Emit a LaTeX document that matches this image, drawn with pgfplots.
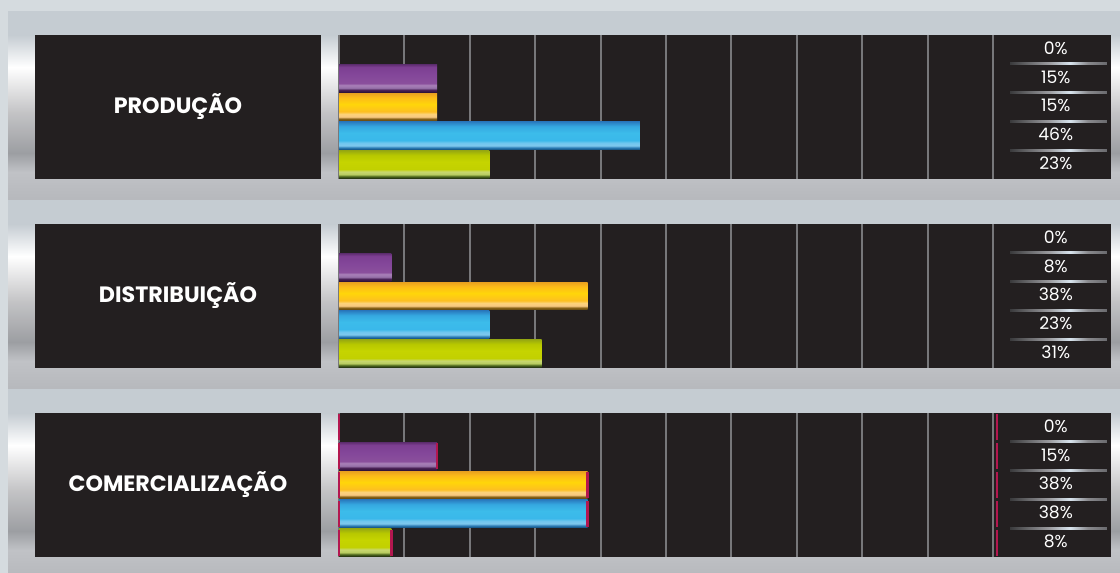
\documentclass[border=0pt]{standalone}
\usepackage{pgfplots}
\pgfplotsset{compat=1.18}
\usepackage{fontspec}
\setmainfont{Poppins}
\definecolor{bg}{HTML}{D5DBDF}
\definecolor{dark}{HTML}{231F20}
\definecolor{gridgray}{HTML}{77777A}
\definecolor{crimson}{HTML}{B3174F}
% band shading
\definecolor{bA}{HTML}{C5CCD2}\definecolor{bB}{HTML}{FFFFFF}\definecolor{bC}{HTML}{C4C4C6}
\definecolor{bD}{HTML}{9C9EA2}\definecolor{bE}{HTML}{C0C2C6}\definecolor{bF}{HTML}{B6B8BC}
\pgfdeclareverticalshading{band}{100bp}{color(0bp)=(bF); color(25bp)=(bF); color(32.7bp)=(bE); color(37.7bp)=(bD); color(48.5bp)=(bC); color(60.4bp)=(bB); color(68.9bp)=(bA); color(75bp)=(bA); color(100bp)=(bA)}
% purple
\definecolor{p0}{HTML}{2E1238}\definecolor{p1}{HTML}{4A2256}\definecolor{p2}{HTML}{9670A8}
\definecolor{p3}{HTML}{A880B8}\definecolor{p4}{HTML}{8A4F9C}\definecolor{p5}{HTML}{84479A}
\definecolor{p6}{HTML}{7D3F92}\definecolor{p7}{HTML}{5E2D70}
\pgfdeclareverticalshading{purplebar}{100bp}{color(0bp)=(p0); color(25bp)=(p0); color(29bp)=(p1); color(32.5bp)=(p2); color(37.5bp)=(p3); color(41bp)=(p4); color(55bp)=(p5); color(70bp)=(p6); color(75bp)=(p7); color(100bp)=(p7)}
% yellow
\definecolor{y0}{HTML}{5A4010}\definecolor{y1}{HTML}{8A6418}\definecolor{y2}{HTML}{F8C880}
\definecolor{y3}{HTML}{FCD27A}\definecolor{y4}{HTML}{FDBF20}\definecolor{y5}{HTML}{FFD60A}
\definecolor{y6}{HTML}{FCBB18}\definecolor{y7}{HTML}{E8A020}
\pgfdeclareverticalshading{yellowbar}{100bp}{color(0bp)=(y0); color(25bp)=(y0); color(29bp)=(y1); color(32.5bp)=(y2); color(37.5bp)=(y3); color(42bp)=(y4); color(55bp)=(y5); color(67bp)=(y6); color(75bp)=(y7); color(100bp)=(y7)}
% blue
\definecolor{c0}{HTML}{0F4A78}\definecolor{c1}{HTML}{2F7FB8}\definecolor{c2}{HTML}{7EC8EE}
\definecolor{c3}{HTML}{6FC6EF}\definecolor{c4}{HTML}{3AB8EA}\definecolor{c5}{HTML}{3CBCEA}
\definecolor{c6}{HTML}{35A8E0}\definecolor{c7}{HTML}{2A7CC0}
\pgfdeclareverticalshading{bluebar}{100bp}{color(0bp)=(c0); color(25bp)=(c0); color(29bp)=(c1); color(32.5bp)=(c2); color(37.5bp)=(c3); color(42bp)=(c4); color(55bp)=(c5); color(67bp)=(c6); color(75bp)=(c7); color(100bp)=(c7)}
% green
\definecolor{g0}{HTML}{1E2A10}\definecolor{g1}{HTML}{4F6A1E}\definecolor{g2}{HTML}{B8CC60}
\definecolor{g3}{HTML}{C8D870}\definecolor{g4}{HTML}{C2D000}\definecolor{g5}{HTML}{C6D400}
\definecolor{g6}{HTML}{B8C800}\definecolor{g7}{HTML}{98AA10}
\pgfdeclareverticalshading{greenbar}{100bp}{color(0bp)=(g0); color(25bp)=(g0); color(29bp)=(g1); color(32.5bp)=(g2); color(37.5bp)=(g3); color(42bp)=(g4); color(55bp)=(g5); color(67bp)=(g6); color(75bp)=(g7); color(100bp)=(g7)}
% separator
\definecolor{s0}{HTML}{3A3A3C}\definecolor{s1}{HTML}{9A9A9E}\definecolor{s2}{HTML}{D8E4EE}\definecolor{s3}{HTML}{8A8A8E}\definecolor{s4}{HTML}{6A6A6E}
\pgfdeclarehorizontalshading{sep}{100bp}{color(0bp)=(s0); color(25bp)=(s0); color(45bp)=(s1); color(56bp)=(s2); color(65bp)=(s3); color(75bp)=(s4); color(100bp)=(s4)}

\newcommand{\seps}{%
  \shade[shading=sep] (axis cs:102.6,0.46) rectangle (axis cs:117.4,0.54);
  \shade[shading=sep] (axis cs:102.6,1.46) rectangle (axis cs:117.4,1.54);
  \shade[shading=sep] (axis cs:102.6,2.46) rectangle (axis cs:117.4,2.54);
  \shade[shading=sep] (axis cs:102.6,3.46) rectangle (axis cs:117.4,3.54);
}

\pgfplotsset{
  panel/.style={
    anchor=south west, width=386pt, height=72pt, scale only axis,
    xmin=0, xmax=118.04, ymin=-0.5, ymax=4.5, y dir=reverse,
    axis line style={draw=none}, axis background/.style={fill=dark},
    xtick={0,10,...,100}, xticklabels={}, ytick=\empty,
    major tick length=0pt, xmajorgrids,
    major grid style={draw=gridgray, line width=1pt},
  },
  bars/.style={xbar, bar shift=0pt, bar width=0.97, draw=none, shading=#1},
  pct/.style={draw=none, mark=none, point meta=explicit symbolic,
    nodes near coords={\pgfplotspointmeta\%},
    nodes near coords align=center,
    every node near coord/.append style={text=white, font=\fontsize{8.6}{10}\selectfont, anchor=center, yshift=0.6pt}},
}
\newcommand{\lbl}[1]{\textbf{\fontsize{11.1}{13}\selectfont #1}}

\begin{document}
\begin{tikzpicture}[x=0.5pt,y=0.5pt]
\fill[bg] (0,0) rectangle (1120,573);
\path[use as bounding box] (0,0) rectangle (1120,573);
\shade[shading=band] (8,372) rectangle (1120,561);
\shade[shading=band] (8,183) rectangle (1120,372);
\shade[shading=band] (8,-6) rectangle (1120,183);
\fill[dark] (35,394) rectangle (321,538);
\fill[dark] (35,205) rectangle (321,349);
\fill[dark] (35,16) rectangle (321,160);
\node[text=white] at (178,466) {\lbl{PRODUÇÃO}};
\node[text=white] at (178,277) {\lbl{DISTRIBUIÇÃO}};
\node[text=white] at (178,88) {\lbl{COMERCIALIZAÇÃO}};
\coordinate (PA) at (339,394);
\coordinate (PB) at (339,205);
\coordinate (PC) at (339,16);

% Panel 1
\begin{axis}[panel, at={(PA)}]
\addplot[bars=purplebar] coordinates {(15,1)};
\addplot[bars=yellowbar] coordinates {(15,2)};
\addplot[bars=bluebar] coordinates {(46,3)};
\addplot[bars=greenbar] coordinates {(23,4)};
\seps
\addplot[pct] table[meta=p] {
x y p
109.6 0 0
109.6 1 15
109.6 2 15
109.6 3 46
109.6 4 23
};
\end{axis}

% Panel 2
\begin{axis}[panel, at={(PB)}]
\addplot[bars=purplebar] coordinates {(8,1)};
\addplot[bars=yellowbar] coordinates {(38,2)};
\addplot[bars=bluebar] coordinates {(23,3)};
\addplot[bars=greenbar] coordinates {(31,4)};
\seps
\addplot[pct] table[meta=p] {
x y p
109.6 0 0
109.6 1 8
109.6 2 38
109.6 3 23
109.6 4 31
};
\end{axis}

% Panel 3
\begin{axis}[panel, at={(PC)}]
\addplot[bars=purplebar] coordinates {(15,1)};
\addplot[bars=yellowbar] coordinates {(38,2)};
\addplot[bars=bluebar] coordinates {(38,3)};
\addplot[bars=greenbar] coordinates {(8,4)};
\addplot[only marks, mark=|, mark size=6.5pt, color=crimson, mark options={line width=1.3pt}] coordinates {
(0,0) (0,1) (0,2) (0,3) (0,4)
(15,1) (38,2) (38,3) (8,4)
(100.6,0) (100.6,1) (100.6,2) (100.6,3) (100.6,4)};
\seps
\addplot[pct] table[meta=p] {
x y p
109.6 0 0
109.6 1 15
109.6 2 38
109.6 3 38
109.6 4 8
};
\end{axis}
\end{tikzpicture}
\end{document}
